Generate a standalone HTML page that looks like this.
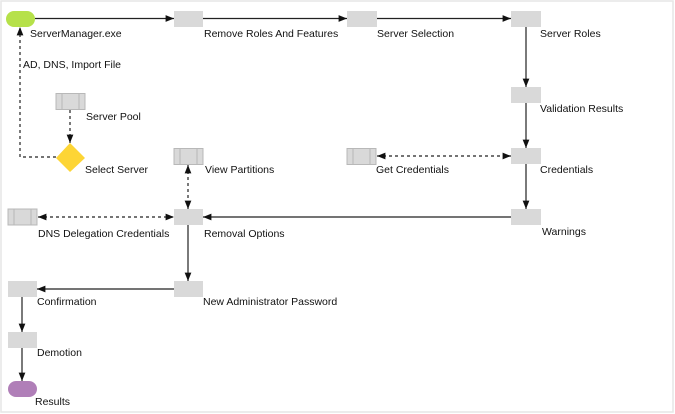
<!DOCTYPE html>
<html><head><meta charset="utf-8"><style>
html,body{margin:0;padding:0;background:#fff}
svg{display:block}
text{font-family:"Liberation Sans",sans-serif;font-size:10.5px;fill:#111}
</style></head><body>
<svg width="675" height="414" viewBox="0 0 675 414">
<defs>
<marker id="a" viewBox="0 0 10 10" refX="10" refY="5" markerWidth="7" markerHeight="7" orient="auto-start-reverse"><path d="M0,1 L10,5 L0,9 z" fill="#111"/></marker>
</defs>
<rect x="1" y="1" width="672" height="411" fill="#fff" stroke="#e6e6e6" stroke-width="1.5"/>
<g stroke="#222" stroke-width="1.2" fill="none">
<line x1="35" y1="18.5" x2="174" y2="18.5" marker-end="url(#a)"/>
<line x1="203" y1="18.5" x2="347" y2="18.5" marker-end="url(#a)"/>
<line x1="377" y1="18.5" x2="511" y2="18.5" marker-end="url(#a)"/>
<line x1="526" y1="27" x2="526" y2="87" marker-end="url(#a)"/>
<line x1="526" y1="103" x2="526" y2="148" marker-end="url(#a)"/>
<line x1="526" y1="164" x2="526" y2="209" marker-end="url(#a)"/>
<line x1="511" y1="217" x2="203" y2="217" marker-end="url(#a)"/>
<line x1="188" y1="225" x2="188" y2="281" marker-end="url(#a)"/>
<line x1="174" y1="289" x2="37" y2="289" marker-end="url(#a)"/>
<line x1="22" y1="297" x2="22" y2="332" marker-end="url(#a)"/>
<line x1="22" y1="348" x2="22" y2="381" marker-end="url(#a)"/>
</g>
<g stroke="#222" stroke-width="1.2" fill="none" stroke-dasharray="3,3">
<polyline points="56,157 20,157 20,27" marker-end="url(#a)"/>
<line x1="70" y1="110" x2="70" y2="143" marker-end="url(#a)"/>
<line x1="188" y1="165" x2="188" y2="209" marker-start="url(#a)" marker-end="url(#a)"/>
<line x1="377" y1="156" x2="511" y2="156" marker-start="url(#a)" marker-end="url(#a)"/>
<line x1="38" y1="217" x2="174" y2="217" marker-start="url(#a)" marker-end="url(#a)"/>
</g>
<rect x="6" y="11" width="29" height="16" rx="8" fill="#b6e14a"/>
<g fill="#d9d9d9">
<rect x="174" y="11" width="29" height="16"/>
<rect x="347" y="11" width="30" height="16"/>
<rect x="511" y="11" width="30" height="16"/>
<rect x="511" y="87" width="30" height="16"/>
<rect x="511" y="148" width="30" height="16"/>
<rect x="511" y="209" width="30" height="16"/>
<rect x="174" y="209" width="29" height="16"/>
<rect x="174" y="281" width="29" height="16"/>
<rect x="8" y="281" width="29" height="16"/>
<rect x="8" y="332" width="29" height="16"/>
</g>
<rect x="8" y="381" width="29" height="16" rx="8" fill="#b07fb8"/>
<g fill="#d9d9d9" stroke="#b8b8b8" stroke-width="1">
<rect x="56" y="93.5" width="29" height="16"/><line x1="62" y1="93.5" x2="62" y2="109.5"/><line x1="79" y1="93.5" x2="79" y2="109.5"/>
<rect x="174" y="148.5" width="29" height="16"/><line x1="180" y1="148.5" x2="180" y2="164.5"/><line x1="197" y1="148.5" x2="197" y2="164.5"/>
<rect x="347" y="148.5" width="29" height="16"/><line x1="353" y1="148.5" x2="353" y2="164.5"/><line x1="370" y1="148.5" x2="370" y2="164.5"/>
<rect x="8" y="209" width="29" height="16"/><line x1="14" y1="209" x2="14" y2="225"/><line x1="31" y1="209" x2="31" y2="225"/>
</g>
<polygon points="70,143 85,158 70,172 56,158" fill="#fdd535"/>
<text x="30" y="37">ServerManager.exe</text>
<text x="204" y="37">Remove Roles And Features</text>
<text x="377" y="37">Server Selection</text>
<text x="540" y="37">Server Roles</text>
<text x="23" y="68">AD, DNS, Import File</text>
<text x="86" y="120">Server Pool</text>
<text x="540" y="112">Validation Results</text>
<text x="85" y="173">Select Server</text>
<text x="205" y="173">View Partitions</text>
<text x="376" y="173">Get Credentials</text>
<text x="540" y="173">Credentials</text>
<text x="38" y="237">DNS Delegation Credentials</text>
<text x="204" y="237">Removal Options</text>
<text x="542" y="235">Warnings</text>
<text x="37" y="305">Confirmation</text>
<text x="203" y="305">New Administrator Password</text>
<text x="37" y="356">Demotion</text>
<text x="35" y="405">Results</text>
</svg>
</body></html>
